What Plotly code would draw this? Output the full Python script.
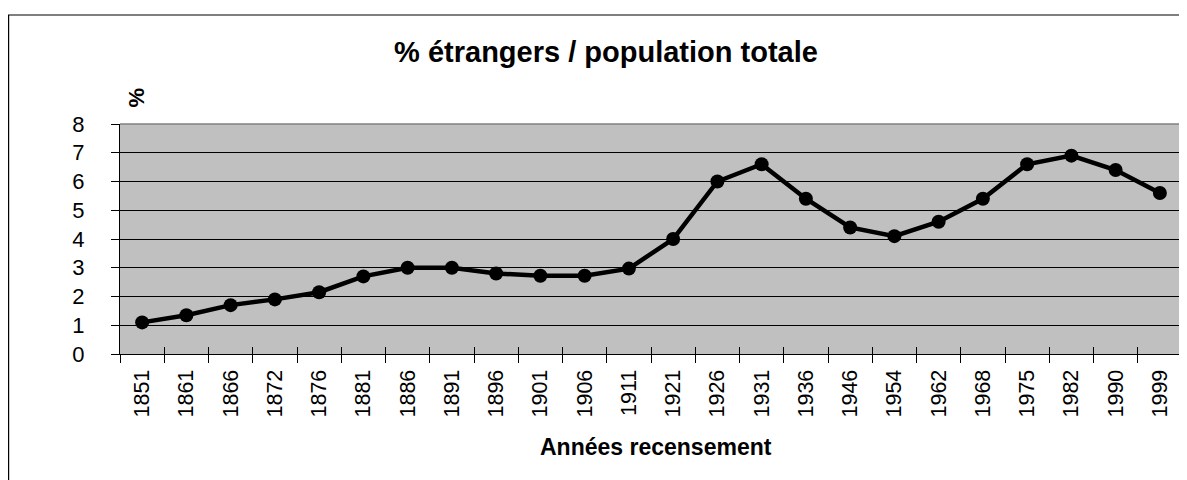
import plotly.graph_objects as go

# Census years and share of foreigners in total population (%)
years = ["1851", "1861", "1866", "1872", "1876", "1881", "1886", "1891",
         "1896", "1901", "1906", "1911", "1921", "1926", "1931", "1936",
         "1946", "1954", "1962", "1968", "1975", "1982", "1990", "1999"]
pct_foreign = [1.1, 1.35, 1.7, 1.9, 2.15, 2.7, 3.0, 3.0,
               2.8, 2.72, 2.72, 2.97, 4.0, 6.0, 6.6, 5.4,
               4.4, 4.1, 4.6, 5.4, 6.6, 6.9, 6.4, 5.6]
y_ticks = [0, 1, 2, 3, 4, 5, 6, 7, 8]

# page has an 8px body margin, so figure coords = screen coords - 8
W, H = 1187, 480
L, R, T, B = 112, 13, 116, 134
pw, ph = W - L - R, H - T - B


def px_x(x):  # figure pixel -> paper fraction
    return (x - L) / pw


def px_y(y):
    return (H - B - y) / ph


fig = go.Figure()

fig.add_trace(go.Scatter(
    x=years, y=pct_foreign,
    mode="lines+markers",
    line=dict(color="black", width=4.5),
    marker=dict(color="black", size=14),
    showlegend=False,
    hoverinfo="x+y",
))
# empty trace so the overlay axes (inner tick marks) get drawn
fig.add_trace(go.Scatter(x=[None], y=[None], xaxis="x2", yaxis="y2",
                         showlegend=False, hoverinfo="skip"))

fig.update_layout(
    width=W, height=H,
    margin=dict(l=L, r=R, t=T, b=B),
    paper_bgcolor="white",
    plot_bgcolor="#c0c0c0",
    font=dict(family="Liberation Sans, Arial, sans-serif", color="black"),
    xaxis=dict(
        type="category",
        range=[-0.5, len(years) - 0.5],
        tickson="boundaries",
        ticks="outside", ticklen=8, tickcolor="black", tickwidth=1,
        tickangle=-90,
        tickfont=dict(size=21.5),
        ticklabelstandoff=6,
        showgrid=False, zeroline=False,
        showline=True, linecolor="black", linewidth=1.2,
    ),
    yaxis=dict(
        range=[0, 8],
        tickvals=y_ticks,
        ticks="outside", ticklen=8, tickcolor="black", tickwidth=1,
        tickfont=dict(size=22),
        ticklabelstandoff=22,
        showgrid=True, gridcolor="black", gridwidth=1,
        zeroline=False,
        showline=True, linecolor="black", linewidth=1.2,
    ),
    # overlay axes only to get tick marks crossing into the plot area
    xaxis2=dict(
        overlaying="x", anchor="y2", range=[-0.5, len(years) - 0.5],
        tickmode="linear", tick0=-0.5, dtick=1,
        ticks="inside", ticklen=7, tickcolor="black",
        showticklabels=False, showgrid=False, zeroline=False, showline=False,
    ),
    yaxis2=dict(
        overlaying="y", anchor="x2", range=[0, 8],
        tickvals=y_ticks,
        ticks="inside", ticklen=7, tickcolor="black",
        showticklabels=False, showgrid=False, zeroline=False, showline=False,
    ),
    title=dict(
        text="<b>% étrangers / population totale</b>",
        font=dict(size=29),
        x=598 / W, xanchor="center",
        y=1 - 44 / H, yanchor="middle",
    ),
)

# grey top and right border of the plot area
fig.add_shape(type="line", xref="paper", yref="paper", x0=0, x1=1, y0=1, y1=1,
              line=dict(color="#808080", width=1.5))
fig.add_shape(type="line", xref="paper", yref="paper", x0=1, x1=1, y0=0, y1=1,
              line=dict(color="#808080", width=1.5))

# outer chart frame (runs off the right and bottom edges)
fig.add_shape(type="rect", xref="paper", yref="paper",
              x0=px_x(0.6), x1=px_x(W + 20),
              y0=px_y(H + 20), y1=px_y(7),
              line=dict(color="black", width=1.2))

# "%" unit label above the y axis
fig.add_annotation(
    xref="paper", yref="paper",
    x=px_x(113), y=px_y(78),
    text="<b>%</b>", textangle=-90, showarrow=False,
    font=dict(size=22),
)

# x axis title
fig.add_annotation(
    xref="paper", yref="paper",
    x=px_x(648), y=px_y(439), yanchor="middle",
    text="<b>Années recensement</b>", showarrow=False,
    font=dict(size=23),
)

fig.write_html("out.html")
